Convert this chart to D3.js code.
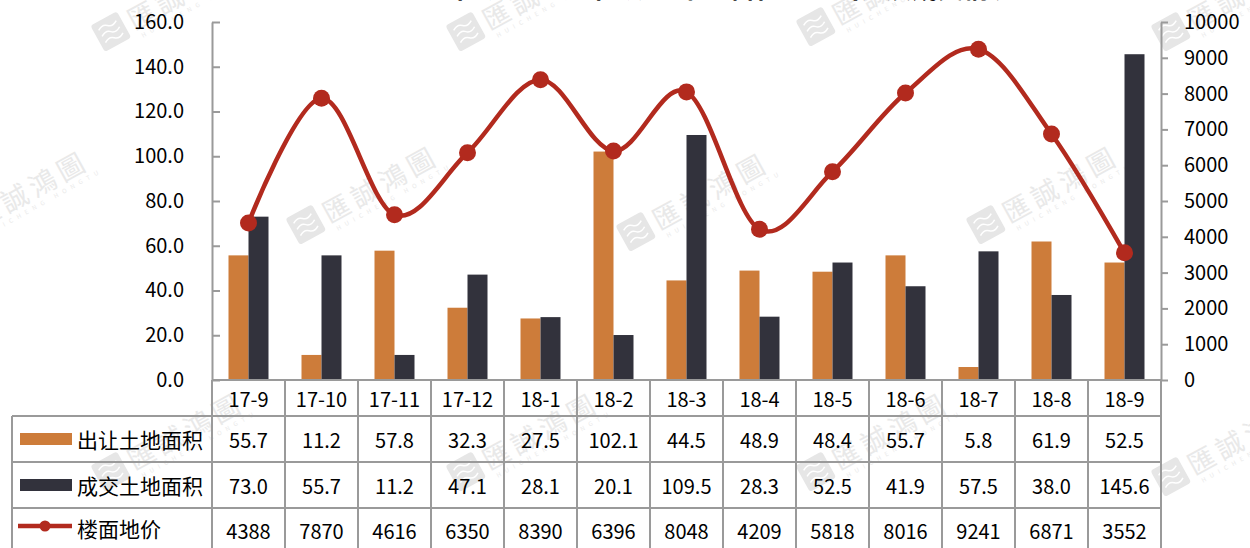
<!DOCTYPE html>
<html>
<head>
<meta charset="utf-8">
<script src="https://cdn.jsdelivr.net/npm/d3@7/dist/d3.min.js"></script>
<style>
  html, body { margin: 0; padding: 0; background: #fff; }
  svg { display: block; }
  text { font-family: "Noto Sans CJK SC", "Noto Sans", sans-serif; }
</style>
</head>
<body>
<svg id="chart" width="1250" height="548"></svg>
<script>
// Monthly land data
const months = ["17-9","17-10","17-11","17-12","18-1","18-2","18-3","18-4","18-5","18-6","18-7","18-8","18-9"];
const offeredArea = [55.7, 11.2, 57.8, 32.3, 27.5, 102.1, 44.5, 48.9, 48.4, 55.7, 5.8, 61.9, 52.5];
const tradedArea  = [73.0, 55.7, 11.2, 47.1, 28.1, 20.1, 109.5, 28.3, 52.5, 41.9, 57.5, 38.0, 145.6];
const floorPrice  = [4388, 7870, 4616, 6350, 8390, 6396, 8048, 4209, 5818, 8016, 9241, 6871, 3552];
const leftTicks  = [0, 20, 40, 60, 80, 100, 120, 140, 160];
const rightTicks = [0, 1000, 2000, 3000, 4000, 5000, 6000, 7000, 8000, 9000, 10000];
const seriesNames = ["出让土地面积", "成交土地面积", "楼面地价"];
const titleText = "2017年9月-2018年9月全市经营性土地出让及成交情况";

const C_ORANGE = "#CD7C3A", C_DARK = "#32323C", C_RED = "#B22A1E", C_GRID = "#9a9a9a";

const svg = d3.select("#chart");
const W = 1250, H = 548;
const plot = { left: 212, right: 1161, top: 22, bottom: 380 };
const rows = [380, 416, 462, 508, 560]; // table row edges
const tableLeft = 12;

// Watermarks
const wm = svg.append("g").attr("class", "watermarks");
const wmPos = [[105,52],[460,52],[810,47],[1165,52],
               [-50,250],[300,245],[630,252],[980,245],
               [105,492],[460,492],[810,492],[1165,497]];
wmPos.forEach(([x, y]) => {
  const g = wm.append("g").attr("transform", `translate(${x},${y}) rotate(-29)`);
  g.append("rect").attr("x", 0).attr("y", -30).attr("width", 30).attr("height", 30)
    .attr("rx", 3).attr("fill", "#e6e6e6");
  [-22, -15, -8].forEach(dy => {
    g.append("path").attr("d", `M5,${dy} q6,-4 10,0 t10,0`)
      .attr("fill", "none").attr("stroke", "#fff").attr("stroke-width", 1.5);
  });
  g.append("text").attr("x", 36).attr("y", -4).text("匯誠鴻圖")
    .attr("font-family", "Noto Sans CJK TC").attr("font-size", 27)
    .attr("letter-spacing", 5).attr("fill", "#e9e9e9");
  g.append("text").attr("x", 40).attr("y", 6).text("HUICHENG HONGTU")
    .attr("font-size", 6).attr("letter-spacing", 5).attr("fill", "#eaeaea");
});

// Title (runs off the top edge)
svg.append("text").attr("x", 700).attr("y", -2).attr("text-anchor", "middle")
  .attr("font-size", 26).attr("font-weight", "bold").attr("fill", "#111").text(titleText);

// Scales
const x0 = d3.scaleBand().domain(months).range([plot.left, plot.right]).paddingInner(0).paddingOuter(0);
const xIn = d3.scaleBand().domain([0, 1]).range([0, 40]);
const barOffset = (x0.bandwidth() - 40) / 2;
const yL = d3.scaleLinear().domain([0, 160]).range([plot.bottom, plot.top]);
const yR = d3.scaleLinear().domain([0, 10000]).range([plot.bottom, plot.top]);

// Bars
const barG = svg.append("g");
[offeredArea, tradedArea].forEach((vals, si) => {
  barG.selectAll(null).data(vals).enter().append("rect")
    .attr("x", (d, i) => x0(months[i]) + barOffset + xIn(si))
    .attr("y", d => yL(d))
    .attr("width", xIn.bandwidth())
    .attr("height", d => yL(0) - yL(d))
    .attr("fill", si === 0 ? C_ORANGE : C_DARK);
});

// Axes
const axL = svg.append("g").attr("transform", `translate(${plot.left},0)`)
  .call(d3.axisLeft(yL).tickValues(leftTicks).tickFormat(d3.format(".1f"))
    .tickSizeInner(-8).tickSizeOuter(0).tickPadding(28));
const axR = svg.append("g").attr("transform", `translate(${plot.right},0)`)
  .call(d3.axisRight(yR).tickValues(rightTicks).tickFormat(d3.format("d"))
    .tickSizeInner(7).tickSizeOuter(0).tickPadding(16));
[axL, axR].forEach(ax => {
  ax.selectAll("path, line").attr("stroke", C_GRID).attr("stroke-width", 2);
  ax.selectAll("text").attr("font-size", 20).attr("fill", "#000")
    .attr("font-family", "Noto Sans CJK SC");
});

// Line
const lineGen = d3.line()
  .x((d, i) => x0(months[i]) + x0.bandwidth() / 2)
  .y(d => yR(d))
  .curve(d3.curveCardinal.tension(0));
svg.append("path").datum(floorPrice).attr("d", lineGen)
  .attr("fill", "none").attr("stroke", C_RED).attr("stroke-width", 4.5)
  .attr("stroke-linejoin", "round");
svg.append("g").selectAll("circle").data(floorPrice).enter().append("circle")
  .attr("cx", (d, i) => x0(months[i]) + x0.bandwidth() / 2)
  .attr("cy", d => yR(d)).attr("r", 8.5).attr("fill", C_RED);

// Data table
const tbl = svg.append("g");
// horizontal lines
tbl.append("line").attr("x1", plot.left).attr("x2", plot.right)
  .attr("y1", rows[0]).attr("y2", rows[0]);
[rows[1], rows[2], rows[3]].forEach(y => {
  tbl.append("line").attr("x1", tableLeft).attr("x2", plot.right).attr("y1", y).attr("y2", y);
});
// vertical lines
tbl.append("line").attr("x1", tableLeft).attr("x2", tableLeft).attr("y1", rows[1]).attr("y2", H);
tbl.append("line").attr("x1", plot.left).attr("x2", plot.left).attr("y1", rows[0]).attr("y2", H);
months.forEach(m => {
  const xr = x0(m) + x0.bandwidth();
  tbl.append("line").attr("x1", xr).attr("x2", xr).attr("y1", rows[0]).attr("y2", H);
});
tbl.selectAll("line").attr("stroke", C_GRID).attr("stroke-width", 2);

const rowMid = i => (rows[i] + rows[i + 1]) / 2;
const cellText = (x, y, t, anchor) => tbl.append("text").attr("x", x).attr("y", y)
  .attr("text-anchor", anchor || "middle").attr("dominant-baseline", "central")
  .attr("font-size", 20).attr("fill", "#000").text(t);

months.forEach(m => cellText(x0(m) + x0.bandwidth() / 2, rowMid(0), m));
const fmt1 = d3.format(".1f");
offeredArea.forEach((v, i) => cellText(x0(months[i]) + x0.bandwidth() / 2, rowMid(1), fmt1(v)));
tradedArea.forEach((v, i) => cellText(x0(months[i]) + x0.bandwidth() / 2, rowMid(2), fmt1(v)));
floorPrice.forEach((v, i) => cellText(x0(months[i]) + x0.bandwidth() / 2, 530, String(v)));

// Legend keys inside the table
tbl.append("rect").attr("x", 20).attr("y", rowMid(1) - 6).attr("width", 52).attr("height", 12).attr("fill", C_ORANGE);
tbl.append("rect").attr("x", 20).attr("y", rowMid(2) - 6).attr("width", 52).attr("height", 12).attr("fill", C_DARK);
tbl.append("line").attr("x1", 18).attr("x2", 72).attr("y1", 526).attr("y2", 526)
  .attr("stroke", C_RED).attr("stroke-width", 4.5);
tbl.append("circle").attr("cx", 45).attr("cy", 526).attr("r", 5.5).attr("fill", C_RED);
[rowMid(1), rowMid(2), 528].forEach((y, i) => {
  tbl.append("text").attr("x", 77).attr("y", y).attr("dominant-baseline", "central")
    .attr("font-size", 21).attr("fill", "#000").text(seriesNames[i]);
});
</script>
</body>
</html>
